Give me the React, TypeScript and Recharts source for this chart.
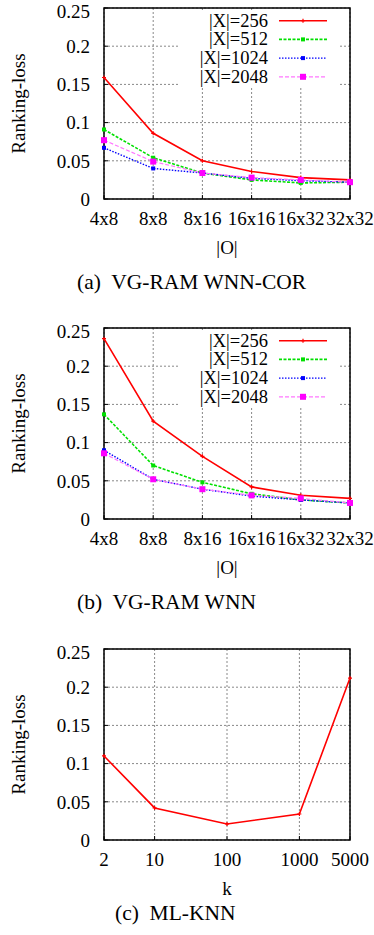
import React from "react";
import { LineChart, Line, XAxis, YAxis, CartesianGrid, Legend, ReferenceArea } from "recharts";

const FONT = "Liberation Serif, Times New Roman, Times, serif";

const sizes = ["4x8", "8x8", "8x16", "16x16", "16x32", "32x32"];
const seriesNames = ["|X|=256", "|X|=512", "|X|=1024", "|X|=2048"];
const yTicks = [0, 0.05, 0.1, 0.15, 0.2, 0.25];

// (a) VG-RAM WNN-COR
const corX256 = [0.159, 0.086, 0.05, 0.036, 0.028, 0.025];
const corX512 = [0.091, 0.054, 0.034, 0.025, 0.021, 0.022];
const corX1024 = [0.067, 0.04, 0.034, 0.027, 0.024, 0.022];
const corX2048 = [0.077, 0.049, 0.034, 0.028, 0.025, 0.022];

// (b) VG-RAM WNN
const wnnX256 = [0.236, 0.128, 0.082, 0.042, 0.031, 0.027];
const wnnX512 = [0.137, 0.07, 0.048, 0.033, 0.025, 0.021];
const wnnX1024 = [0.09, 0.052, 0.039, 0.03, 0.025, 0.021];
const wnnX2048 = [0.086, 0.052, 0.039, 0.031, 0.027, 0.021];

// (c) ML-KNN
const knnK = [2, 10, 100, 1000, 5000];
const knnLoss = [0.11, 0.042, 0.021, 0.034, 0.212];

const corData = sizes.map((s, i) => ({ size: s, x256: corX256[i], x512: corX512[i], x1024: corX1024[i], x2048: corX2048[i] }));
const wnnData = sizes.map((s, i) => ({ size: s, x256: wnnX256[i], x512: wnnX512[i], x1024: wnnX1024[i], x2048: wnnX2048[i] }));
const knnData = knnK.map((k, i) => ({ k, loss: knnLoss[i] }));

type Mark = "plus" | "square";
const styles = [
  { key: "x256", color: "#ff0000", line: "#ff0000", width: 1.6, dash: undefined, mark: "plus" as Mark, size: 4 },
  { key: "x512", color: "#00e000", line: "#00e000", width: 1.6, dash: "3 1.5", mark: "square" as Mark, size: 4 },
  { key: "x1024", color: "#0000ff", line: "#0000ff", width: 1.4, dash: "1.5 1.5", mark: "square" as Mark, size: 4 },
  { key: "x2048", color: "#ff00ff", line: "#ff77ff", width: 1.2, dash: "4 2", mark: "square" as Mark, size: 6 },
];

function drawMark(mark: Mark, color: string, size: number, cx: number, cy: number, key?: any) {
  if (mark === "plus") {
    return (
      <path key={key} d={`M${cx - size / 2},${cy}h${size}M${cx},${cy - size / 2}v${size}`} stroke={color} strokeWidth={1.2} fill="none" />
    );
  }
  return <rect key={key} x={cx - size / 2} y={cy - size / 2} width={size} height={size} fill={color} />;
}

const makeDot = (mark: Mark, color: string, size: number) => (p: any) => {
  if (p.cx == null || p.cy == null) return <g key={`e${p.index}`} />;
  return drawMark(mark, color, size, p.cx, p.cy, `d${p.index}`);
};

const tickStyle = { fill: "#000", fontSize: 19, fontFamily: FONT };
const tickMark = { stroke: "#000", strokeWidth: 1 };

function LegendBox() {
  return (
    <div style={{ width: 162, height: 78, background: "#fff" }}>
      <svg width={162} height={78} style={{ display: "block" }}>
        {styles.map((s, i) => {
          const y = 10.7 + i * 18.7;
          return (
            <g key={s.key}>
              <text x={90} y={y} textAnchor="end" dominantBaseline="central" fontSize={18.5} fontFamily={FONT} fill="#000">
                {seriesNames[i]}
              </text>
              <line x1={101} x2={149} y1={y} y2={y} stroke={s.line} strokeWidth={s.width} strokeDasharray={s.dash} />
              {drawMark(s.mark, s.color, s.size, 125, y)}
            </g>
          );
        })}
      </svg>
    </div>
  );
}

const yLabel = {
  content: (p: any) => {
    const vb = p.viewBox || {};
    const cy = vb.y + vb.height / 2;
    return (
      <text x={18} y={cy} transform={`rotate(-90 18 ${cy})`} textAnchor="middle" dominantBaseline="central" fontSize={19} fontFamily={FONT} fill="#000">
        Ranking-loss
      </text>
    );
  },
};

const xLabel = (value: string) => ({
  content: (p: any) => {
    const vb = p.viewBox || {};
    return (
      <text x={vb.x + vb.width / 2} y={vb.y + 48} textAnchor="middle" dominantBaseline="central" fontSize={19} fontFamily={FONT} fill="#000">
        {value}
      </text>
    );
  },
});

const MARGIN = { top: 8, right: 24, bottom: 0, left: 0 };

// gnuplot-style inward ticks on all four sides
function FrameAxes({ xTicks, numeric }: { xTicks?: number[]; numeric?: boolean }) {
  return (
    <>
      {numeric ? (
        <XAxis xAxisId="top" orientation="top" dataKey="k" type="number" scale="log" domain={[2, 5000]} ticks={xTicks} interval={0} height={0} axisLine={false} tick={false} tickLine={tickMark} tickSize={-4} />
      ) : (
        <XAxis xAxisId="top" orientation="top" dataKey="size" interval={0} height={0} axisLine={false} tick={false} tickLine={tickMark} tickSize={-4} />
      )}
      <YAxis yAxisId="right" orientation="right" type="number" domain={[0, 0.25]} ticks={yTicks} width={0} axisLine={false} tick={false} tickLine={tickMark} tickSize={-4} />
    </>
  );
}

function SizeChart({ data }: { data: any[] }) {
  return (
    <LineChart width={374} height={259} data={data} margin={MARGIN} style={{ fontFamily: FONT }}>
      <CartesianGrid stroke="#888" strokeDasharray="2 2" strokeWidth={1} />
      <ReferenceArea x1={sizes[0]} x2={sizes[sizes.length - 1]} y1={0} y2={0.25} fill="none" stroke="#000" strokeWidth={1.5} ifOverflow="visible" />
      <XAxis dataKey="size" interval={0} axisLine={false} tickLine={tickMark} tickSize={-4} tickMargin={17} height={60} tick={tickStyle} label={xLabel("|O|")} />
      <YAxis type="number" domain={[0, 0.25]} ticks={yTicks} width={104} axisLine={false} tickLine={tickMark} tickSize={-4} tickMargin={18} tick={tickStyle} label={yLabel} />
      {FrameAxes({})}
      {styles.map((s) => (
        <Line
          key={s.key}
          dataKey={s.key}
          stroke={s.line}
          strokeWidth={s.width}
          strokeDasharray={s.dash}
          dot={makeDot(s.mark, s.color, s.size)}
          activeDot={false}
          isAnimationActive={false}
        />
      ))}
      <Legend
        layout="vertical"
        align="center"
        verticalAlign="middle"
        content={() => <LegendBox />}
        wrapperStyle={{ position: "absolute", left: 178, top: 10, width: 162, height: 78 }}
      />
    </LineChart>
  );
}

function KnnChart() {
  return (
    <LineChart width={374} height={259} data={knnData} margin={MARGIN} style={{ fontFamily: FONT }}>
      <CartesianGrid stroke="#888" strokeDasharray="2 2" strokeWidth={1} />
      <ReferenceArea x1={2} x2={5000} y1={0} y2={0.25} fill="none" stroke="#000" strokeWidth={1.5} ifOverflow="visible" />
      <XAxis
        dataKey="k"
        type="number"
        scale="log"
        domain={[2, 5000]}
        ticks={knnK}
        interval={0}
        axisLine={false}
        tickLine={tickMark}
        tickSize={-4}
        tickMargin={17}
        height={60}
        tick={tickStyle}
        label={xLabel("k")}
      />
      <YAxis type="number" domain={[0, 0.25]} ticks={yTicks} width={104} axisLine={false} tickLine={tickMark} tickSize={-4} tickMargin={18} tick={tickStyle} label={yLabel} />
      {FrameAxes({ xTicks: knnK, numeric: true })}
      <Line dataKey="loss" stroke="#ff0000" strokeWidth={1.6} dot={makeDot("plus", "#ff0000", 4)} activeDot={false} isAnimationActive={false} />
    </LineChart>
  );
}

const captionStyle: React.CSSProperties = {
  position: "absolute",
  fontFamily: FONT,
  fontSize: 21.5,
  lineHeight: "24px",
  whiteSpace: "pre",
  color: "#000",
};

export default function App() {
  return (
    <div style={{ position: "absolute", left: 0, top: 0, width: 374, height: 935, background: "#fff", overflow: "hidden" }}>
      <div style={{ position: "absolute", left: 0, top: 0 }}>
        <SizeChart data={corData} />
      </div>
      <div style={{ ...captionStyle, left: 77, top: 270 }}>(a)  VG-RAM WNN-COR</div>
      <div style={{ position: "absolute", left: 0, top: 320 }}>
        <SizeChart data={wnnData} />
      </div>
      <div style={{ ...captionStyle, left: 77, top: 590 }}>(b)  VG-RAM WNN</div>
      <div style={{ position: "absolute", left: 0, top: 641 }}>
        <KnnChart />
      </div>
      <div style={{ ...captionStyle, left: 115, top: 901 }}>(c)  ML-KNN</div>
    </div>
  );
}
